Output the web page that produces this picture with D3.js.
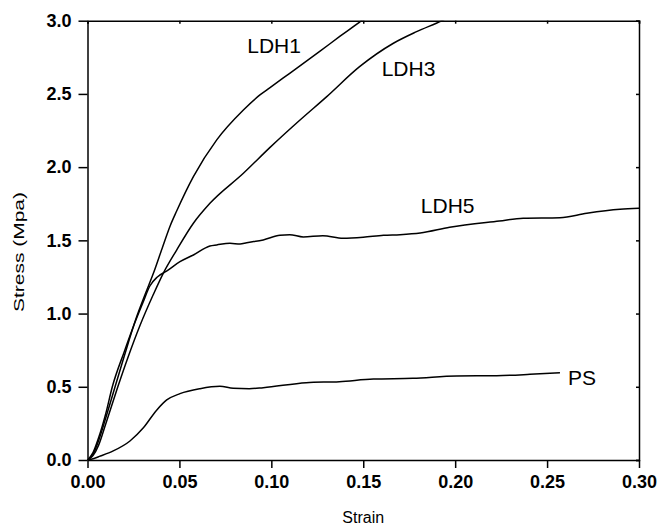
<!DOCTYPE html>
<html><head><meta charset="utf-8">
<script src="https://cdn.jsdelivr.net/npm/d3@7"></script>
<style>body{margin:0;background:#fff}svg{display:block}</style>
</head><body>
<svg id="c" width="659" height="529"></svg>
<script>
const xTicks = [0, 0.05, 0.10, 0.15, 0.20, 0.25, 0.30];
const yTicks = [0, 0.5, 1.0, 1.5, 2.0, 2.5, 3.0];
const xLabel = "Strain";
const yLabel = "Stress (Mpa)";
const seriesNames = ["LDH1", "LDH3", "LDH5", "PS"];

const ldh1Strain = [0, 0.003, 0.006, 0.010, 0.015, 0.020, 0.0265, 0.031, 0.036, 0.041, 0.045, 0.0485, 0.0576, 0.0703, 0.0848, 0.0938, 0.0993, 0.110, 0.1265, 0.1374, 0.149, 0.152];
const ldh1Stress = [0, 0.04, 0.13, 0.29, 0.50, 0.71, 0.97, 1.12, 1.28, 1.46, 1.60, 1.70, 1.935, 2.186, 2.39, 2.493, 2.543, 2.641, 2.792, 2.894, 3.0, 3.03];

const ldh3Strain = [0, 0.003, 0.006, 0.010, 0.0165, 0.022, 0.0286, 0.0358, 0.0412, 0.0485, 0.0576, 0.0666, 0.0848, 0.0993, 0.1156, 0.130, 0.148, 0.1664, 0.179, 0.1927, 0.196];
const ldh3Stress = [0, 0.03, 0.10, 0.25, 0.50, 0.70, 0.92, 1.13, 1.275, 1.434, 1.617, 1.753, 1.958, 2.135, 2.322, 2.48, 2.686, 2.846, 2.925, 3.0, 3.02];

const ldh5Strain = [0, 0.003, 0.006, 0.010, 0.0135, 0.020, 0.0246, 0.030, 0.034, 0.038, 0.043, 0.0503, 0.0576, 0.0666, 0.0703, 0.0775, 0.083, 0.0866, 0.0956, 0.1047, 0.110, 0.1174, 0.128, 0.139, 0.150, 0.161, 0.170, 0.181, 0.197, 0.224, 0.237, 0.257, 0.2716, 0.2897, 0.30];
const ldh5Stress = [0, 0.05, 0.15, 0.32, 0.50, 0.74, 0.90, 1.07, 1.19, 1.25, 1.29, 1.354, 1.40, 1.462, 1.469, 1.48, 1.475, 1.484, 1.503, 1.535, 1.539, 1.523, 1.532, 1.514, 1.521, 1.535, 1.539, 1.55, 1.589, 1.632, 1.651, 1.655, 1.685, 1.712, 1.719];

const psStrain = [0, 0.002, 0.007, 0.014, 0.0231, 0.0304, 0.0376, 0.0431, 0.0503, 0.0612, 0.072, 0.0793, 0.088, 0.0956, 0.119, 0.137, 0.1555, 0.177, 0.2008, 0.2226, 0.2407, 0.257];
const psStress = [0, 0.005, 0.027, 0.062, 0.13, 0.22, 0.34, 0.41, 0.453, 0.487, 0.503, 0.49, 0.487, 0.494, 0.528, 0.535, 0.553, 0.558, 0.574, 0.576, 0.585, 0.596];

const series = [
  {name: seriesNames[0], xs: ldh1Strain, ys: ldh1Stress},
  {name: seriesNames[1], xs: ldh3Strain, ys: ldh3Stress},
  {name: seriesNames[2], xs: ldh5Strain, ys: ldh5Stress},
  {name: seriesNames[3], xs: psStrain, ys: psStress}
];

const svg = d3.select("#c");
const L = 87.5, R = 639, T = 20.7, B = 460;
const x = d3.scaleLinear().domain([0, 0.30]).range([L, R]);
const y = d3.scaleLinear().domain([0, 3.0]).range([B, T]);

svg.append("defs").append("clipPath").attr("id", "clip")
  .append("rect").attr("x", L).attr("y", T).attr("width", R - L).attr("height", B - T);

const line = d3.line().x(d => x(d[0])).y(d => y(d[1])).curve(d3.curveMonotoneX);
const g = svg.append("g").attr("clip-path", "url(#clip)");
series.forEach(s => {
  g.append("path").datum(s.xs.map((v, i) => [v, s.ys[i]]))
    .attr("d", line).attr("fill", "none").attr("stroke", "#000").attr("stroke-width", 1.5)
    .attr("stroke-linejoin", "round");
});

// frame: top & right with small inward ticks
const topAxis = svg.append("g").attr("transform", `translate(0,${T})`)
  .call(d3.axisBottom(x).tickValues(xTicks).tickSize(3).tickFormat(""));
const rightAxis = svg.append("g").attr("transform", `translate(${R},0)`)
  .call(d3.axisLeft(y).tickValues(yTicks).tickSize(3).tickFormat(""));
[topAxis, rightAxis].forEach(a => { a.selectAll("path,line").attr("stroke", "#000").attr("stroke-width", 1.5); });

const fmtX = d3.format(".2f"), fmtY = d3.format(".1f");
const xa = svg.append("g").attr("transform", `translate(0,${B})`)
  .call(d3.axisBottom(x).tickValues(xTicks).tickSize(8).tickSizeOuter(0).tickPadding(7).tickFormat(fmtX));
const ya = svg.append("g").attr("transform", `translate(${L},0)`)
  .call(d3.axisLeft(y).tickValues(yTicks).tickSize(9).tickSizeOuter(0).tickPadding(7).tickFormat(fmtY));
[xa, ya].forEach(a => {
  a.selectAll("path,line").attr("stroke", "#000").attr("stroke-width", 1.5);
  a.selectAll("text").attr("fill", "#000").style("font-family", "Liberation Sans, Arial, sans-serif")
    .style("font-size", "18px").style("font-weight", "bold");
});

svg.append("text").attr("x", (L + R) / 2).attr("y", 523).attr("text-anchor", "middle")
  .style("font-family", "Liberation Sans, Arial, sans-serif").style("font-size", "16px").text(xLabel);
svg.append("text").attr("transform", `translate(24,312) rotate(-90)`).attr("text-anchor", "start")
  .attr("textLength", 120).attr("lengthAdjust", "spacingAndGlyphs")
  .style("font-family", "Liberation Sans, Arial, sans-serif").style("font-size", "15.5px").text(yLabel);

// curve labels (anchored to data coordinates)
const labelPos = [[0.0869, 2.777], [0.160, 2.622], [0.1813, 1.689], [0.2614, 0.512]];
series.forEach((s, i) => {
  svg.append("text").attr("x", x(labelPos[i][0])).attr("y", y(labelPos[i][1]))
    .style("font-family", "Liberation Sans, Arial, sans-serif").style("font-size", "21px").text(s.name);
});
</script>
</body></html>
